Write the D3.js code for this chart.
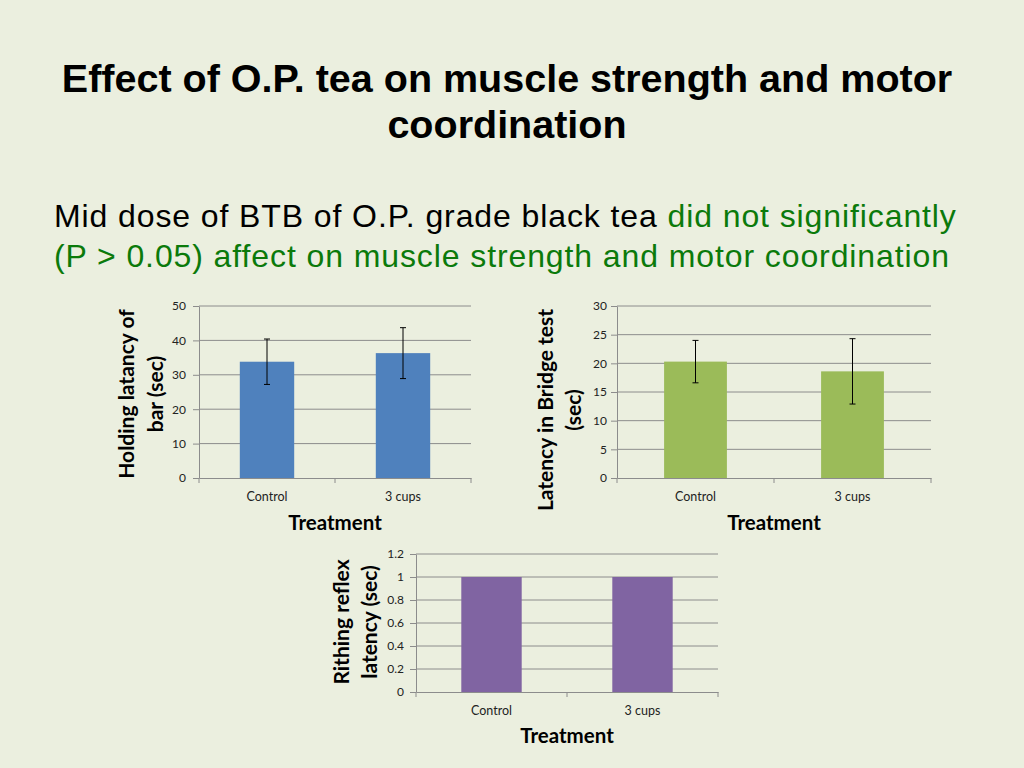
<!DOCTYPE html>
<html><head><meta charset="utf-8">
<script src="https://cdn.jsdelivr.net/npm/d3@7"></script>
<style>
html,body{margin:0;padding:0;background:#EBEFDF;}
svg{display:block;}
</style></head>
<body>
<script>
const categories = ["Control", "3 cups"];
const holdingValues = [33.8, 36.3];
const holdingErrors = [6.6, 7.4];
const holdingTicks = [0, 10, 20, 30, 40, 50];
const bridgeValues = [20.3, 18.6];
const bridgeErrors = [3.7, 5.7];
const bridgeTicks = [0, 5, 10, 15, 20, 25, 30];
const rithingValues = [1, 1];
const rithingTicks = [0, 0.2, 0.4, 0.6, 0.8, 1, 1.2];

const W = 1024, H = 768;
const svg = d3.select("body").append("svg").attr("width", W).attr("height", H);
svg.append("rect").attr("width", W).attr("height", H).attr("fill", "#EBEFDF");

const titleFont = "'Liberation Sans', Arial, sans-serif";
const chartFont = "Lato, 'Open Sans', sans-serif";

svg.append("text").attr("x", 507).attr("y", 92).attr("text-anchor", "middle")
  .attr("font-family", titleFont).attr("font-weight", "bold").attr("font-size", 39.5)
  .attr("fill", "#000").text("Effect of O.P. tea on muscle strength and motor");
svg.append("text").attr("x", 507).attr("y", 138).attr("text-anchor", "middle")
  .attr("font-family", titleFont).attr("font-weight", "bold").attr("font-size", 39.5)
  .attr("fill", "#000").text("coordination");

const green = "#0B7A0B";
const sub1 = svg.append("text").attr("x", 54).attr("y", 227)
  .attr("font-family", titleFont).attr("font-size", 32).attr("letter-spacing", 0.9);
sub1.append("tspan").attr("fill", "#000").text("Mid dose of BTB of O.P. grade black tea ");
sub1.append("tspan").attr("fill", green).text("did not significantly");
svg.append("text").attr("x", 54).attr("y", 267)
  .attr("font-family", titleFont).attr("font-size", 32).attr("letter-spacing", 0.9).attr("fill", green)
  .text("(P > 0.05) affect on muscle strength and motor coordination");

function drawChart(cfg) {
  const g = svg.append("g");
  const x = d3.scaleBand().domain(categories).range([cfg.x0, cfg.x1]).paddingInner(cfg.pad).paddingOuter(cfg.pad / 2);
  const y = d3.scaleLinear().domain([0, d3.max(cfg.ticks)]).range([cfg.y0, cfg.y1]);

  g.selectAll("line.grid").data(cfg.ticks.filter(t => t > 0)).join("line")
    .attr("x1", cfg.x0).attr("x2", cfg.x1)
    .attr("y1", d => y(d)).attr("y2", d => y(d))
    .attr("stroke", "#8C8C8C").attr("stroke-width", 1);

  g.selectAll("rect.bar").data(cfg.values).join("rect")
    .attr("x", (d, i) => x(categories[i])).attr("width", x.bandwidth())
    .attr("y", d => y(d)).attr("height", d => y(0) - y(d))
    .attr("fill", cfg.color);

  if (cfg.errors) {
    cfg.values.forEach((v, i) => {
      const cx = x(categories[i]) + x.bandwidth() / 2;
      const e = cfg.errors[i];
      g.append("line").attr("x1", cx).attr("x2", cx).attr("y1", y(v + e)).attr("y2", y(v - e))
        .attr("stroke", "#000").attr("stroke-width", 1);
      [v + e, v - e].forEach(t => {
        g.append("line").attr("x1", cx - 3).attr("x2", cx + 3).attr("y1", y(t)).attr("y2", y(t))
          .attr("stroke", "#000").attr("stroke-width", 1);
      });
    });
  }

  const ya = g.append("g").attr("transform", `translate(${cfg.x0},0)`)
    .call(d3.axisLeft(y).tickValues(cfg.ticks).tickSize(6).tickSizeOuter(0).tickFormat(d => String(d)));
  ya.select(".domain").attr("stroke", "#8C8C8C");
  ya.selectAll(".tick line").attr("stroke", "#8C8C8C");
  ya.selectAll(".tick text").attr("font-family", chartFont).attr("font-size", 12).attr("fill", "#222").attr("x", -cfg.labelGap);

  const xa = g.append("g").attr("transform", `translate(0,${cfg.y0})`)
    .call(d3.axisBottom(x).tickSize(0));
  xa.select(".domain").attr("stroke", "#8C8C8C");
  xa.selectAll(".tick text").attr("font-family", chartFont).attr("font-size", 12.5).attr("fill", "#222")
    .attr("y", 22.5).attr("dy", 0);
  const step = (cfg.x1 - cfg.x0) / categories.length;
  g.selectAll("line.cb").data(d3.range(categories.length + 1)).join("line")
    .attr("x1", d => cfg.x0 + d * step).attr("x2", d => cfg.x0 + d * step)
    .attr("y1", cfg.y0).attr("y2", cfg.y0 + 5).attr("stroke", "#8C8C8C");

  g.append("text").attr("x", cfg.xTitleX).attr("y", cfg.xTitleY).attr("text-anchor", "middle")
    .attr("font-family", chartFont).attr("font-weight", "bold").attr("font-size", 20.5).attr("fill", "#000")
    .text("Treatment");

  cfg.yTitle.forEach((t, i) => {
    g.append("text").attr("transform", `translate(${cfg.yTitleX[i]},${cfg.yTitleCY}) rotate(-90)`)
      .attr("text-anchor", "middle").attr("font-family", chartFont).attr("font-weight", "bold")
      .attr("font-size", 21).attr("fill", "#000").text(t);
  });
}

drawChart({ x0: 199, x1: 471, y0: 478, y1: 306, pad: 0.6, ticks: holdingTicks, values: holdingValues,
  errors: holdingErrors, color: "#4F81BD", xTitleX: 335, xTitleY: 530, yTitle: ["Holding latancy of", "bar (sec)"],
  yTitleX: [134, 163], yTitleCY: 394, labelGap: 13 });
drawChart({ x0: 617, x1: 931, y0: 478, y1: 306, pad: 0.6, ticks: bridgeTicks, values: bridgeValues,
  errors: bridgeErrors, color: "#9BBB59", xTitleX: 774, xTitleY: 530, yTitle: ["Latency in Bridge test", "(sec)"],
  yTitleX: [553, 581], yTitleCY: 410, labelGap: 10 });
drawChart({ x0: 416, x1: 718, y0: 692, y1: 554, pad: 0.6, ticks: rithingTicks, values: rithingValues,
  errors: null, color: "#8064A2", xTitleX: 567, xTitleY: 743, yTitle: ["Rithing reflex", "latency (sec)"],
  yTitleX: [349, 377], yTitleCY: 622, labelGap: 12 });
</script>
</body></html>
